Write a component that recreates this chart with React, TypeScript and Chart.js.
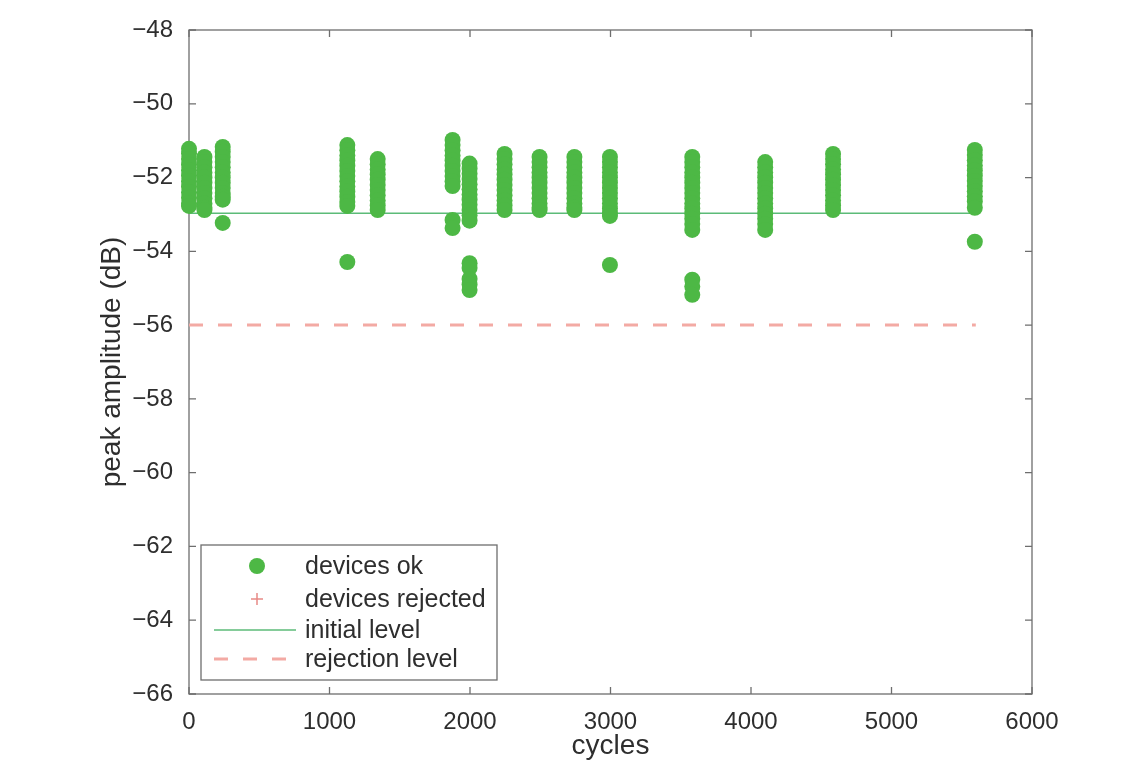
import React, { useEffect, useRef } from 'react';
import { Chart, registerables } from 'chart.js';

Chart.register(...registerables);

// ---- data ----
const clusterCycles = [0, 110, 240, 1127, 1343, 1876, 1997, 2246, 2495, 2743, 2996, 3582, 4101, 4584, 5593];
const clusterAmplitudes: number[][] = [
  [-51.22, -51.35, -51.5, -51.65, -51.8, -51.95, -52.1, -52.25, -52.4, -52.55, -52.7, -52.77],
  [-51.44, -51.58, -51.72, -51.86, -52.0, -52.14, -52.28, -52.42, -52.56, -52.7, -52.82, -52.88],
  [-51.17, -51.3, -51.44, -51.58, -51.72, -51.86, -52.0, -52.14, -52.28, -52.42, -52.52, -52.6, -53.23],
  [-51.12, -51.26, -51.4, -51.54, -51.68, -51.82, -51.96, -52.1, -52.24, -52.38, -52.52, -52.66, -52.77, -54.29],
  [-51.5, -51.64, -51.78, -51.92, -52.06, -52.2, -52.34, -52.48, -52.62, -52.76, -52.88],
  [-50.98, -51.12, -51.26, -51.4, -51.54, -51.68, -51.82, -51.96, -52.1, -52.23, -53.15, -53.37],
  [-51.62, -51.76, -51.9, -52.04, -52.18, -52.32, -52.46, -52.6, -52.74, -52.88, -53.02, -53.17, -54.32, -54.45, -54.75, -54.9, -55.05],
  [-51.36, -51.5, -51.64, -51.78, -51.92, -52.06, -52.2, -52.34, -52.48, -52.62, -52.76, -52.88],
  [-51.44, -51.58, -51.72, -51.86, -52.0, -52.14, -52.28, -52.42, -52.56, -52.7, -52.82, -52.88],
  [-51.44, -51.58, -51.72, -51.86, -52.0, -52.14, -52.28, -52.42, -52.56, -52.7, -52.82, -52.88],
  [-51.44, -51.58, -51.72, -51.86, -52.0, -52.14, -52.28, -52.42, -52.56, -52.7, -52.84, -52.96, -53.04, -54.37],
  [-51.44, -51.58, -51.72, -51.86, -52.0, -52.14, -52.28, -52.42, -52.56, -52.7, -52.84, -52.98, -53.12, -53.26, -53.42, -54.77, -54.95, -55.18],
  [-51.58, -51.72, -51.86, -52.0, -52.14, -52.28, -52.42, -52.56, -52.7, -52.84, -52.98, -53.12, -53.26, -53.42],
  [-51.36, -51.5, -51.64, -51.78, -51.92, -52.06, -52.2, -52.34, -52.48, -52.62, -52.76, -52.88],
  [-51.25, -51.39, -51.53, -51.67, -51.81, -51.95, -52.09, -52.23, -52.37, -52.51, -52.65, -52.82, -53.74],
];
const rejectedCycles: number[] = [];
const rejectedAmplitudes: number[] = [];
const levelCycles = [0, 5600];
const initialLevel = -52.97;
const rejectionLevel = -56;
const xMin = 0;
const xMax = 6000;
const xStep = 1000;
const yMin = -66;
const yMax = -48;
const yStep = 2;
const xTitle = 'cycles';
const yTitle = 'peak amplitude (dB)';
const legendLabels = ['devices ok', 'devices rejected', 'initial level', 'rejection level'];

// ---- styles ----
const GREEN = '#4db845';
const LINE_GREEN = '#5cbb78';
const RED_DASH = '#f3aaa4';
const RED_PLUS = '#e88a86';
const AXIS = '#6e6e6e';
const TEXT = '#2e2e2e';
const FONT = "'Liberation Sans', Arial, Helvetica, sans-serif";

const okPoints = clusterCycles.flatMap((c, i) => clusterAmplitudes[i].map((a) => ({ x: c, y: a })));
const rejectedPoints = rejectedCycles.map((c, i) => ({ x: c, y: rejectedAmplitudes[i] }));
const initialPoints = levelCycles.map((c) => ({ x: c, y: initialLevel }));
const rejectionPoints = levelCycles.map((c) => ({ x: c, y: rejectionLevel }));

const framePlugin = {
  id: 'matlabFrame',
  beforeDatasetsDraw(chart: any) {
    const { ctx, chartArea } = chart;
    const { left, right, top, bottom } = chartArea;
    const xs = chart.scales.x;
    const ys = chart.scales.y;
    ctx.save();
    ctx.strokeStyle = AXIS;
    ctx.lineWidth = 1.3;
    ctx.strokeRect(left, top, right - left, bottom - top);
    const tl = 7;
    ctx.beginPath();
    xs.ticks.forEach((t: any) => {
      const px = xs.getPixelForValue(t.value);
      ctx.moveTo(px, bottom);
      ctx.lineTo(px, bottom - tl);
      ctx.moveTo(px, top);
      ctx.lineTo(px, top + tl);
    });
    ys.ticks.forEach((t: any) => {
      const py = ys.getPixelForValue(t.value);
      ctx.moveTo(left, py);
      ctx.lineTo(left + tl, py);
      ctx.moveTo(right, py);
      ctx.lineTo(right - tl, py);
    });
    ctx.stroke();
    ctx.restore();
  },
  afterDraw(chart: any) {
    const { ctx } = chart;
    const boxL = 201;
    const boxT = 545;
    const boxR = 497;
    const boxB = 680;
    ctx.save();
    ctx.fillStyle = '#ffffff';
    ctx.fillRect(boxL, boxT, boxR - boxL, boxB - boxT);
    ctx.strokeStyle = AXIS;
    ctx.lineWidth = 1.3;
    ctx.strokeRect(boxL, boxT, boxR - boxL, boxB - boxT);
    const rows = [566, 599, 630, 659];
    const symX = 257;
    const textX = 305;
    ctx.font = `25px ${FONT}`;
    ctx.fillStyle = TEXT;
    ctx.textBaseline = 'middle';
    ctx.textAlign = 'left';
    chart.data.datasets.forEach((ds: any, i: number) => {
      const y = rows[i];
      if (i === 0) {
        ctx.beginPath();
        ctx.fillStyle = ds.backgroundColor;
        ctx.arc(symX, y, 8, 0, Math.PI * 2);
        ctx.fill();
      } else if (i === 1) {
        ctx.beginPath();
        ctx.strokeStyle = ds.borderColor;
        ctx.lineWidth = 1.5;
        ctx.moveTo(symX - 6, y);
        ctx.lineTo(symX + 6, y);
        ctx.moveTo(symX, y - 6);
        ctx.lineTo(symX, y + 6);
        ctx.stroke();
      } else {
        ctx.beginPath();
        ctx.strokeStyle = ds.borderColor;
        ctx.lineWidth = ds.borderWidth;
        ctx.setLineDash(ds.borderDash || []);
        ctx.moveTo(214, y);
        ctx.lineTo(296, y);
        ctx.stroke();
        ctx.setLineDash([]);
      }
      ctx.fillStyle = TEXT;
      ctx.fillText(ds.label, textX, y + 1);
    });
    ctx.restore();
  },
};

export default function App() {
  const canvasRef = useRef<HTMLCanvasElement | null>(null);

  useEffect(() => {
    const canvas = canvasRef.current;
    if (!canvas) return;
    const chart = new Chart(canvas, {
      type: 'scatter',
      data: {
        datasets: [
          {
            label: legendLabels[0],
            data: okPoints,
            backgroundColor: GREEN,
            borderColor: GREEN,
            borderWidth: 0,
            pointRadius: 8,
            pointHoverRadius: 8,
            showLine: false,
            clip: false,
            order: 0,
          },
          {
            label: legendLabels[1],
            data: rejectedPoints,
            backgroundColor: RED_PLUS,
            borderColor: RED_PLUS,
            pointStyle: 'cross',
            pointRadius: 6,
            showLine: false,
            order: 1,
          },
          {
            label: legendLabels[2],
            data: initialPoints,
            borderColor: LINE_GREEN,
            backgroundColor: LINE_GREEN,
            borderWidth: 1.5,
            pointRadius: 0,
            showLine: true,
            order: 2,
          },
          {
            label: legendLabels[3],
            data: rejectionPoints,
            borderColor: RED_DASH,
            backgroundColor: RED_DASH,
            borderWidth: 3,
            borderDash: [14, 15],
            pointRadius: 0,
            showLine: true,
            order: 3,
          },
        ],
      },
      options: {
        animation: false,
        responsive: true,
        maintainAspectRatio: false,
        layout: { padding: { left: 0, top: 30, right: 108, bottom: 0 } },
        plugins: {
          legend: { display: false },
          tooltip: { enabled: false },
        },
        scales: {
          x: {
            type: 'linear',
            min: xMin,
            max: xMax,
            grid: { display: false },
            border: { display: false },
            ticks: {
              stepSize: xStep,
              padding: 6,
              color: TEXT,
              font: { family: FONT, size: 24 },
              maxRotation: 0,
              callback: (v: any) => String(v),
            },
            title: {
              display: true,
              text: xTitle,
              color: TEXT,
              font: { family: FONT, size: 28 },
              padding: { top: 0, bottom: 0 },
            },
            afterFit: (scale: any) => {
              scale.height = 69;
            },
          },
          y: {
            type: 'linear',
            min: yMin,
            max: yMax,
            grid: { display: false },
            border: { display: false },
            ticks: {
              stepSize: yStep,
              padding: 8,
              color: TEXT,
              font: { family: FONT, size: 24 },
              callback: (v: any) => String(v).replace('-', '\u2212'),
            },
            title: {
              display: true,
              text: yTitle,
              color: TEXT,
              font: { family: FONT, size: 28 },
              padding: { top: 95, bottom: 0 },
            },
            afterFit: (scale: any) => {
              scale.width = 189;
            },
          },
        },
      },
      plugins: [framePlugin],
    });
    return () => chart.destroy();
  }, []);

  return (
    <div style={{ position: 'fixed', left: 0, top: 0, width: 1140, height: 763, background: '#ffffff' }}>
      <canvas ref={canvasRef} />
    </div>
  );
}
